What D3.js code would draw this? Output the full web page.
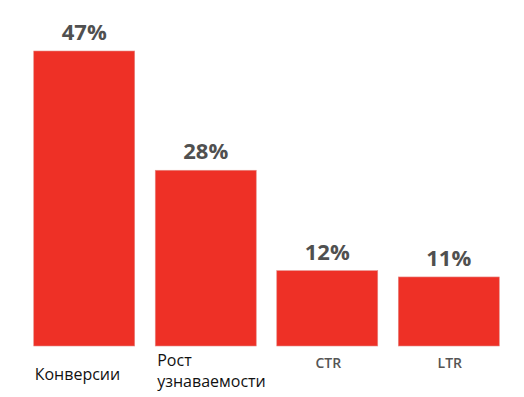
<!DOCTYPE html>
<html>
<head>
<meta charset="utf-8">
<script src="https://cdn.jsdelivr.net/npm/d3@7"></script>
<style>
  html, body { margin: 0; padding: 0; background: #fff; }
  svg { display: block; }
</style>
</head>
<body>
<svg id="chart" width="524" height="397"></svg>
<script>
// данные
const categories = ['Конверсии', 'Рост узнаваемости', 'CTR', 'LTR']
const values = [47, 28, 12, 11]
const valueLabels = ['47%', '28%', '12%', '11%']
// подписи категорий по строкам
const labelLines = [['Конверсии'], ['Рост', 'узнаваемости'], ['CTR'], ['LTR']]

const width = 524, height = 397
const svg = d3.select('#chart')

const x = d3.scaleBand()
    .domain(categories)
    .range([24, 509])
    .paddingInner(0.169)
    .paddingOuter(0.08)

const y = d3.scaleLinear()
    .domain([0, 47])
    .range([346, 51])

// столбцы
svg.append('g')
    .selectAll('rect')
    .data(categories)
    .join('rect')
    .attr('x', d => x(d))
    .attr('y', (d, i) => y(values[i]))
    .attr('width', x.bandwidth())
    .attr('height', (d, i) => y(0) - y(values[i]))
    .attr('fill', '#ee3026')
    .attr('stroke', '#e58a85')
    .attr('stroke-width', 0.6)

// значения
svg.append('g')
    .selectAll('text')
    .data(categories)
    .join('text')
    .attr('x', d => x(d) + x.bandwidth() / 2)
    .attr('y', (d, i) => y(values[i]) - 11)
    .attr('text-anchor', 'middle')
    .attr('font-family', 'Open Sans')
    .attr('font-weight', 700)
    .attr('font-size', 22)
    .attr('fill', '#505050')
    .text((d, i) => valueLabels[i])

// подписи: первые две — слева, обычные; остальные — по центру
svg.append('g')
    .selectAll('text')
    .data(categories)
    .join('text')
    .each(function (d, i) {
        const t = d3.select(this)
        const left = i < 2
        if (left) {
            const lx = x(d) + (i === 0 ? 1 : 2)
            t.attr('x', lx)
                .attr('y', labelLines[i].length > 1 ? 366 : 380)
                .attr('font-family', 'Open Sans')
                .attr('font-size', 16)
                .attr('fill', '#111')
            labelLines[i].forEach((line, k) => {
                t.append('tspan')
                    .attr('x', lx)
                    .attr('dy', k === 0 ? 0 : 21)
                    .text(line)
            })
        } else {
            t.attr('x', x(d) + x.bandwidth() / 2 + 1)
                .attr('y', 368)
                .attr('text-anchor', 'middle')
                .attr('font-family', 'Open Sans')
                .attr('font-weight', 600)
                .attr('font-size', 14)
                .attr('fill', '#555')
                .text(labelLines[i][0])
        }
    })
</script>
</body>
</html>
